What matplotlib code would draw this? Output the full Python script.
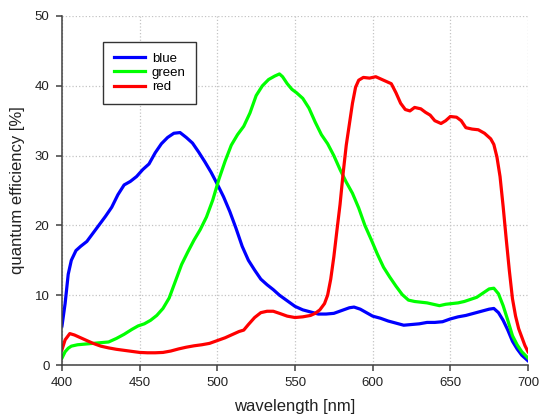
import matplotlib
matplotlib.use("Agg")
import matplotlib.pyplot as plt

# -----------------------------
# Data
# -----------------------------
blue_wl = [400, 402, 404, 406, 409, 412, 416, 420, 424, 428, 432, 436, 440, 444,
           448, 452, 456, 460, 464, 468, 472, 476, 480, 484, 488, 492, 496, 500,
           504, 508, 512, 516, 520, 524, 528, 532, 536, 540, 545, 550, 555, 560,
           565, 570, 575, 580, 585, 588, 592, 596, 600, 605, 610, 615, 620, 625,
           630, 635, 640, 645, 650, 655, 660, 665, 670, 675, 678, 681, 684, 687,
           690, 693, 696, 700]
blue_qe = [5.6, 8.8, 13.0, 15.0, 16.4, 17.0, 17.7, 18.9, 20.1, 21.3, 22.6, 24.4,
           25.8, 26.3, 27.0, 28.0, 28.8, 30.4, 31.7, 32.6, 33.2, 33.3, 32.6, 31.8,
           30.5, 29.1, 27.6, 25.9, 24.1, 22.0, 19.6, 17.0, 15.0, 13.6, 12.3, 11.5,
           10.8, 10.0, 9.2, 8.4, 7.9, 7.6, 7.3, 7.3, 7.4, 7.8, 8.2, 8.3, 8.0, 7.5,
           7.0, 6.7, 6.3, 6.0, 5.7, 5.8, 5.9, 6.1, 6.1, 6.2, 6.6, 6.9, 7.1, 7.4,
           7.7, 8.0, 8.1, 7.5, 6.4, 5.0, 3.4, 2.3, 1.4, 0.6]

green_wl = [400, 402, 404, 406, 410, 415, 420, 425, 430, 435, 440, 445, 449, 453,
            457, 461, 465, 469, 473, 477, 481, 485, 489, 493, 497, 501, 505, 509,
            513, 517, 521, 525, 529, 533, 537, 540, 542, 545, 548, 551, 555, 559,
            563, 567, 571, 575, 579, 583, 587, 591, 595, 599, 603, 607, 611, 615,
            619, 623, 627, 631, 635, 639, 643, 647, 651, 655, 659, 663, 667, 671,
            675, 678, 681, 684, 687, 690, 693, 696, 700]
green_qe = [1.0, 1.9, 2.4, 2.7, 2.9, 3.0, 3.1, 3.2, 3.3, 3.8, 4.4, 5.1, 5.6, 5.9,
            6.4, 7.1, 8.1, 9.6, 12.0, 14.4, 16.2, 17.9, 19.4, 21.2, 23.6, 26.6,
            29.2, 31.5, 33.0, 34.2, 36.1, 38.6, 40.0, 40.9, 41.4, 41.7, 41.3, 40.3,
            39.5, 39.0, 38.2, 36.8, 34.8, 33.0, 31.7, 30.0, 28.0, 26.2, 24.6, 22.5,
            20.0, 18.0, 15.9, 14.0, 12.6, 11.3, 10.1, 9.3, 9.1, 9.0, 8.9, 8.7, 8.5,
            8.7, 8.8, 8.9, 9.1, 9.4, 9.7, 10.3, 10.9, 11.0, 10.2, 8.5, 6.4, 4.2,
            2.9, 1.9, 1.0]

red_wl = [400, 402, 405, 408, 412, 416, 420, 425, 430, 435, 440, 445, 450, 455,
          460, 465, 470, 475, 480, 485, 490, 495, 500, 505, 510, 514, 517, 520,
          524, 528, 532, 536, 540, 545, 550, 555, 560, 563, 566, 569, 571, 573,
          575, 577, 579, 581, 583, 585, 587, 589, 591, 594, 598, 602, 605, 608,
          612, 615, 618, 621, 624, 627, 631, 634, 637, 640, 644, 647, 650, 654,
          657, 660, 664, 668, 672, 676, 678, 680, 682, 684, 686, 688, 690, 692,
          694, 696, 698, 700]
red_qe = [2.2, 3.6, 4.5, 4.3, 3.9, 3.5, 3.1, 2.7, 2.45, 2.25, 2.1, 1.95, 1.8, 1.75,
          1.75, 1.8, 2.0, 2.3, 2.55, 2.75, 2.9, 3.1, 3.5, 3.9, 4.4, 4.8, 5.0, 5.8,
          6.8, 7.5, 7.7, 7.7, 7.4, 7.0, 6.8, 6.9, 7.1, 7.4, 7.9, 8.8, 10.0, 12.3,
          15.5, 19.3, 23.0, 27.5, 31.5, 34.5, 37.5, 39.8, 40.8, 41.2, 41.1, 41.3,
          41.0, 40.7, 40.3, 39.0, 37.5, 36.6, 36.4, 36.9, 36.7, 36.2, 35.8, 35.0,
          34.6, 35.0, 35.6, 35.5, 35.0, 34.0, 33.8, 33.7, 33.2, 32.4, 31.6, 29.8,
          27.0, 22.7, 18.0, 13.5, 9.5, 7.0, 5.2, 4.0, 2.8, 1.9]

x_ticks = [400, 450, 500, 550, 600, 650, 700]
y_ticks = [0, 10, 20, 30, 40, 50]

# -----------------------------
# Style
# -----------------------------
plt.rcParams['font.family'] = ['Liberation Sans', 'DejaVu Sans']
axis_col = "#404040"

fig = plt.figure(figsize=(5.4, 4.2), dpi=100)
ax = fig.add_axes([62 / 540, 55 / 420, 466 / 540, 349 / 420])

lw = 2.3
ax.plot(blue_wl, blue_qe, color="#0000ff", lw=lw, label="blue")
ax.plot(green_wl, green_qe, color="#00ff00", lw=lw, label="green")
ax.plot(red_wl, red_qe, color="#ff0000", lw=lw, label="red")

ax.set_xlim(400, 700)
ax.set_ylim(0, 50)
ax.set_xticks(x_ticks)
ax.set_yticks(y_ticks)

ax.grid(True, linestyle=":", color="#c4c4c4", linewidth=0.9)
ax.set_axisbelow(True)

for side in ("top", "right"):
    ax.spines[side].set_visible(False)
for side in ("left", "bottom"):
    ax.spines[side].set_color(axis_col)
    ax.spines[side].set_linewidth(1.1)

ax.tick_params(direction="out", length=4, width=1.1, color=axis_col,
               labelsize=9.5, labelcolor="#222222", pad=5)

ax.set_xlabel("wavelength [nm]", fontsize=12, color="#222222", labelpad=7)
ax.set_ylabel("quantum efficiency [%]", fontsize=12, color="#222222", labelpad=7)

leg = ax.legend(loc="upper left", bbox_to_anchor=(41 / 466, 323 / 349),
                borderaxespad=0, fontsize=9.5, fancybox=False, framealpha=1,
                edgecolor="#333333", borderpad=0.8, labelspacing=0.15,
                handlelength=2.4, handletextpad=0.5)
leg.get_frame().set_linewidth(1.0)

fig.savefig("out.png", dpi=100)
